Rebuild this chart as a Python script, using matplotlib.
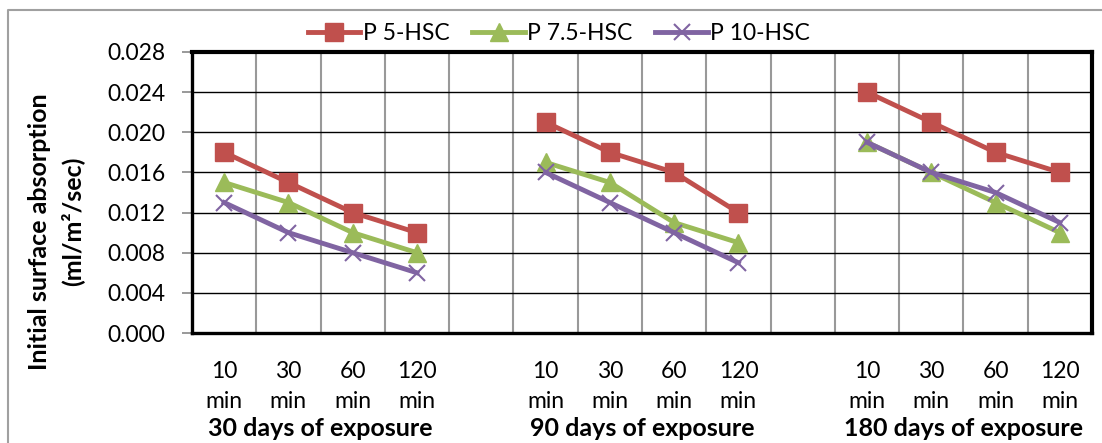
import numpy as np
import matplotlib
matplotlib.use("Agg")
import matplotlib.pyplot as plt
from matplotlib.lines import Line2D

plt.rcParams['font.family'] = ['Lato', 'DejaVu Sans']

# 14 category slots, two empty ones separate the exposure groups
cats = ['10\nmin', '30\nmin', '60\nmin', '120\nmin', '',
        '10\nmin', '30\nmin', '60\nmin', '120\nmin', '',
        '10\nmin', '30\nmin', '60\nmin', '120\nmin']
groups = ['30 days of exposure', '90 days of exposure', '180 days of exposure']
group_slots = [[0, 1, 2, 3], [5, 6, 7, 8], [10, 11, 12, 13]]

nan = np.nan
p5 = [0.018, 0.015, 0.012, 0.010, nan, 0.021, 0.018, 0.016, 0.012, nan, 0.024, 0.021, 0.018, 0.016]
p75 = [0.015, 0.013, 0.010, 0.008, nan, 0.017, 0.015, 0.011, 0.009, nan, 0.019, 0.016, 0.013, 0.010]
p10 = [0.013, 0.010, 0.008, 0.006, nan, 0.016, 0.013, 0.010, 0.007, nan, 0.019, 0.016, 0.014, 0.011]

names = ['P 5-HSC', 'P 7.5-HSC', 'P 10-HSC']
colors = ['#C0504D', '#9BBB59', '#8064A2']

W, H = 1102, 443
fig = plt.figure(figsize=(W / 100, H / 100), dpi=100)
ax = fig.add_axes([192 / W, (H - 333) / H, 900 / W, 281 / H])

x = np.arange(len(cats))
ax.plot(x, p5, color=colors[0], lw=3.5, marker='s', ms=13, mec=colors[0], label=names[0])
ax.plot(x, p75, color=colors[1], lw=3.5, marker='^', ms=13, mec=colors[1], label=names[1])
ax.plot(x, p10, color=colors[2], lw=3.5, marker='x', ms=12, mew=1.5, label=names[2])

ax.set_xlim(-0.5, len(cats) - 0.5)
ax.set_ylim(0, 0.028)
yt = np.arange(0, 0.0281, 0.004)
ax.set_yticks(yt)
ax.set_yticklabels(['%.3f' % v for v in yt])
ax.set_xticks(x)
ax.set_xticklabels(cats, linespacing=1.55)
ax.set_xticks(np.arange(-0.5, len(cats), 1), minor=True)

ax.tick_params(axis='y', length=7, width=1.2, color='#888888', pad=12, labelsize=16.5)
ax.tick_params(axis='x', which='both', length=0, pad=20, labelsize=16.5)

ax.grid(axis='y', which='major', color='black', lw=1)
ax.grid(axis='x', which='minor', color='#999999', lw=1.5)
ax.set_axisbelow(True)

for s in ['top', 'right']:
    ax.spines[s].set_linewidth(3)
for s in ['left', 'bottom']:
    ax.spines[s].set_linewidth(2.4)

for name, slots in zip(groups, group_slots):
    ax.text(np.mean(slots), -(429 - 333) / 281, name, transform=ax.get_xaxis_transform(),
            ha='center', va='center', fontsize=18, fontweight='bold')

fig.text(40 / W, 1 - 232 / H, 'Initial surface absorption', rotation=90,
         ha='center', va='center', fontsize=18, fontweight='bold')
fig.text(72 / W, 1 - 221 / H, '(ml/m²/sec)', rotation=90,
         ha='center', va='center', fontsize=18, fontweight='bold')

fig.legend(loc='center', bbox_to_anchor=(559 / W, 1 - 34 / H), ncol=3, frameon=False,
           fontsize=16.5, handlelength=2.3, handletextpad=0.1, columnspacing=1.0)

# chart area border (only left and top edge fall inside the picture)
fig.add_artist(Line2D([8 / W, 8 / W, 1.0], [0.0, 1 - 10 / H, 1 - 10 / H],
                      transform=fig.transFigure, color='#A0A0A0', lw=1.5))

fig.savefig('out.png', dpi=100)
